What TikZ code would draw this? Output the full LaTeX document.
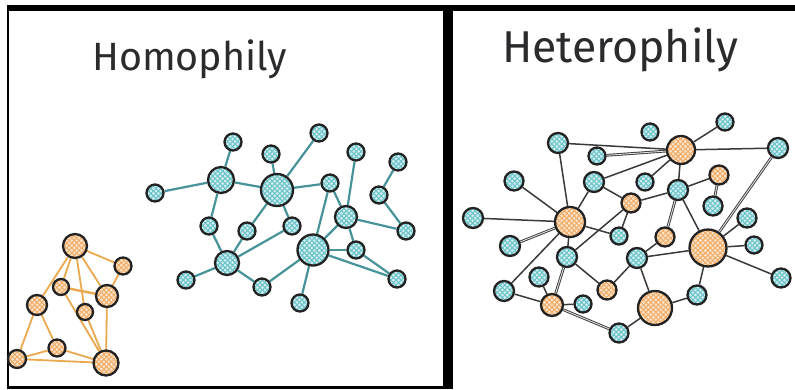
\documentclass[tikz,border=0pt]{standalone}
\usepackage{fontspec}
\setmainfont{Fira Sans}
\usetikzlibrary{patterns.meta}

\pgfdeclarelayer{paper}
\pgfdeclarelayer{edges}
\pgfsetlayers{paper,edges,main}

\definecolor{ink}{HTML}{222222}
\definecolor{titleink}{HTML}{2B2B2E}
\definecolor{cyanbase}{HTML}{D2EFF1}
\definecolor{cyanhatch}{HTML}{6CC3CA}
\definecolor{orbase}{HTML}{FDE5CB}
\definecolor{orhatch}{HTML}{F1AD6A}
\definecolor{tealedge}{HTML}{47939A}
\definecolor{oredge}{HTML}{EBA94F}
\definecolor{grayedge}{HTML}{3A3A3A}

\tikzset{
  hatchnode/.style 2 args={circle, inner sep=0pt, draw=ink, line width=2.3pt,
    preaction={fill=#1},
    preaction={pattern={Lines[angle=45,distance=3.5pt,line width=1.1pt]}, pattern color=#2},
    pattern={Lines[angle=-45,distance=3.5pt,line width=1.1pt]}, pattern color=#2},
  bn/.style={hatchnode={cyanbase}{cyanhatch}, minimum size=#1},
  bn/.default=17pt,
  on/.style={hatchnode={orbase}{orhatch}, minimum size=#1},
  on/.default=17pt,
  tedge/.style={draw=tealedge, line width=2.2pt},
  oedge/.style={draw=oredge, line width=1.8pt},
  gedge/.style={draw=grayedge, line width=1.5pt},
  dedge/.style={draw=grayedge, line width=0.9pt, double=white!75!gray, double distance=0.9pt},
  title/.style={anchor=base west, inner sep=0pt, text=titleink},
}

\begin{document}
\begin{tikzpicture}[x=1pt,y=-1pt]
\useasboundingbox (0,0) rectangle (795,389);
\begin{pgfonlayer}{paper}
  \fill[white] (0,0) rectangle (795,389);
\end{pgfonlayer}

% panel frames
\fill[black] (7,5) rectangle (795,11);
\fill[black] (7,5) rectangle (9,389);
\fill[black] (7,386) rectangle (453,389);
\fill[black] (443,5) rectangle (453,389);

% titles
\node[title] (t1) at (92,70) {\resizebox{195pt}{!}{\fontsize{39}{39}\selectfont Homophily}};
\node[title] (t2) at (502,62) {\resizebox{236pt}{!}{\fontsize{42}{42}\selectfont Heterophily}};

% ---------- homophily: blue cluster ----------
\node[bn] (a1) at (233,142) {};
\node[bn] (a2) at (271,154) {};
\node[bn] (a3) at (319,133) {};
\node[bn] (a4) at (356,152) {};
\node[bn] (a5) at (398,162) {};
\node[bn] (a6) at (155,193) {};
\node[bn=26pt] (a7) at (221,180) {};
\node[bn=32pt] (a8) at (277,190) {};
\node[bn] (a9) at (330,183) {};
\node[bn] (a10) at (379,195) {};
\node[bn=22pt] (a11) at (346,217) {};
\node[bn] (a12) at (406,231) {};
\node[bn] (a13) at (209,226) {};
\node[bn] (a14) at (247,231) {};
\node[bn] (a15) at (292,226) {};
\node[bn=31pt] (a16) at (313,250) {};
\node[bn] (a17) at (356,250) {};
\node[bn=24pt] (a18) at (227,263) {};
\node[bn] (a19) at (186,280) {};
\node[bn] (a20) at (262,287) {};
\node[bn] (a21) at (397,279) {};
\node[bn] (a22) at (300,303) {};

% ---------- homophily: orange cluster ----------
\node[on=24pt] (o1) at (75,246) {};
\node[on=17pt] (o2) at (123,266) {};
\node[on=16pt] (o3) at (61,287) {};
\node[on=22pt] (o4) at (107,296) {};
\node[on=20pt] (o5) at (37,305) {};
\node[on=16pt] (o6) at (85,312) {};
\node[on=17pt] (o7) at (57,348) {};
\node[on=18pt] (o8) at (17,359) {};
\node[on=25pt] (o9) at (106,363) {};

% ---------- heterophily ----------
\node[bn] (h1) at (725,122) {};
\node[bn] (h2) at (650,132) {};
\node[on=28pt] (h3) at (681,150) {};
\node[bn=20pt] (h4) at (558,143) {};
\node[bn=20pt] (h5) at (778,148) {};
\node[bn] (h6) at (597,156) {};
\node[bn=19pt] (h7) at (514,181) {};
\node[bn=20pt] (h8) at (594,182) {};
\node[bn] (h9) at (645,182) {};
\node[on=19pt] (h10) at (719,175) {};
\node[bn=20pt] (h11) at (678,190) {};
\node[on=19pt] (h12) at (631,203) {};
\node[bn=19pt] (h13) at (713,206) {};
\node[bn=20pt] (h14) at (473,218) {};
\node[on=30pt] (h15) at (570,222) {};
\node[bn=19pt] (h16) at (747,218) {};
\node[bn] (h17) at (619,236) {};
\node[on=19pt] (h18) at (665,237) {};
\node[bn=20pt] (h19) at (510,246) {};
\node[on=37pt] (h20) at (708,248) {};
\node[bn] (h21) at (754,245) {};
\node[bn=20pt] (h22) at (567,257) {};
\node[bn=20pt] (h23) at (637,258) {};
\node[bn=19pt] (h24) at (539,277) {};
\node[bn=19pt] (h25) at (781,278) {};
\node[bn=20pt] (h26) at (504,291) {};
\node[on=19pt] (h27) at (607,290) {};
\node[on=34pt] (h28) at (655,308) {};
\node[bn=19pt] (h29) at (697,295) {};
\node[on=22pt] (h30) at (552,305) {};
\node[bn] (h31) at (583,304) {};
\node[bn=19pt] (h32) at (619,333) {};

% ---------- edges, behind the nodes ----------
\begin{pgfonlayer}{edges}
  % blue cluster
  \foreach \u/\v in {a1/a7, a2/a8, a3/a8, a6/a7, a7/a8, a7/a13, a8/a9, a8/a15, a8/a14,
      a13/a18, a14/a18, a19/a18, a18/a20, a15/a18, a20/a16, a9/a16, a9/a11, a4/a11,
      a5/a10, a10/a12, a11/a12, a11/a16, a11/a17, a16/a17, a16/a21, a17/a21, a16/a22}
    \draw[tedge] (\u) -- (\v);
  % orange cluster
  \foreach \u/\v in {o1/o2, o2/o4, o1/o5, o1/o3, o1/o4, o1/o6, o4/o9, o3/o9, o6/o9,
      o5/o8, o5/o7, o7/o8, o7/o9, o8/o9}
    \draw[oedge] (\u) -- (\v);
  \draw[oedge, line width=2.4pt] (o3) -- (o4);
  % mixed graph
  \foreach \u/\v in {h4/h3, h8/h3, h9/h3, h1/h3, h3/h5, h3/h11, h11/h10, h11/h12,
      h11/h20, h20/h16, h20/h21, h20/h25, h20/h23, h20/h29, h29/h28, h28/h23,
      h28/h32, h23/h27, h23/h18, h4/h15, h7/h15, h14/h15, h8/h15, h8/h12,
      h15/h17, h15/h22, h12/h17, h12/h22, h15/h26, h22/h27, h24/h30, h26/h30, h30/h31}
    \draw[gedge] (\u) -- (\v);
  \foreach \u/\v in {h6/h3, h5/h20, h11/h18, h10/h13, h19/h15, h22/h30, h30/h32}
    \draw[dedge] (\u) -- (\v);
\end{pgfonlayer}
\end{tikzpicture}
\end{document}
